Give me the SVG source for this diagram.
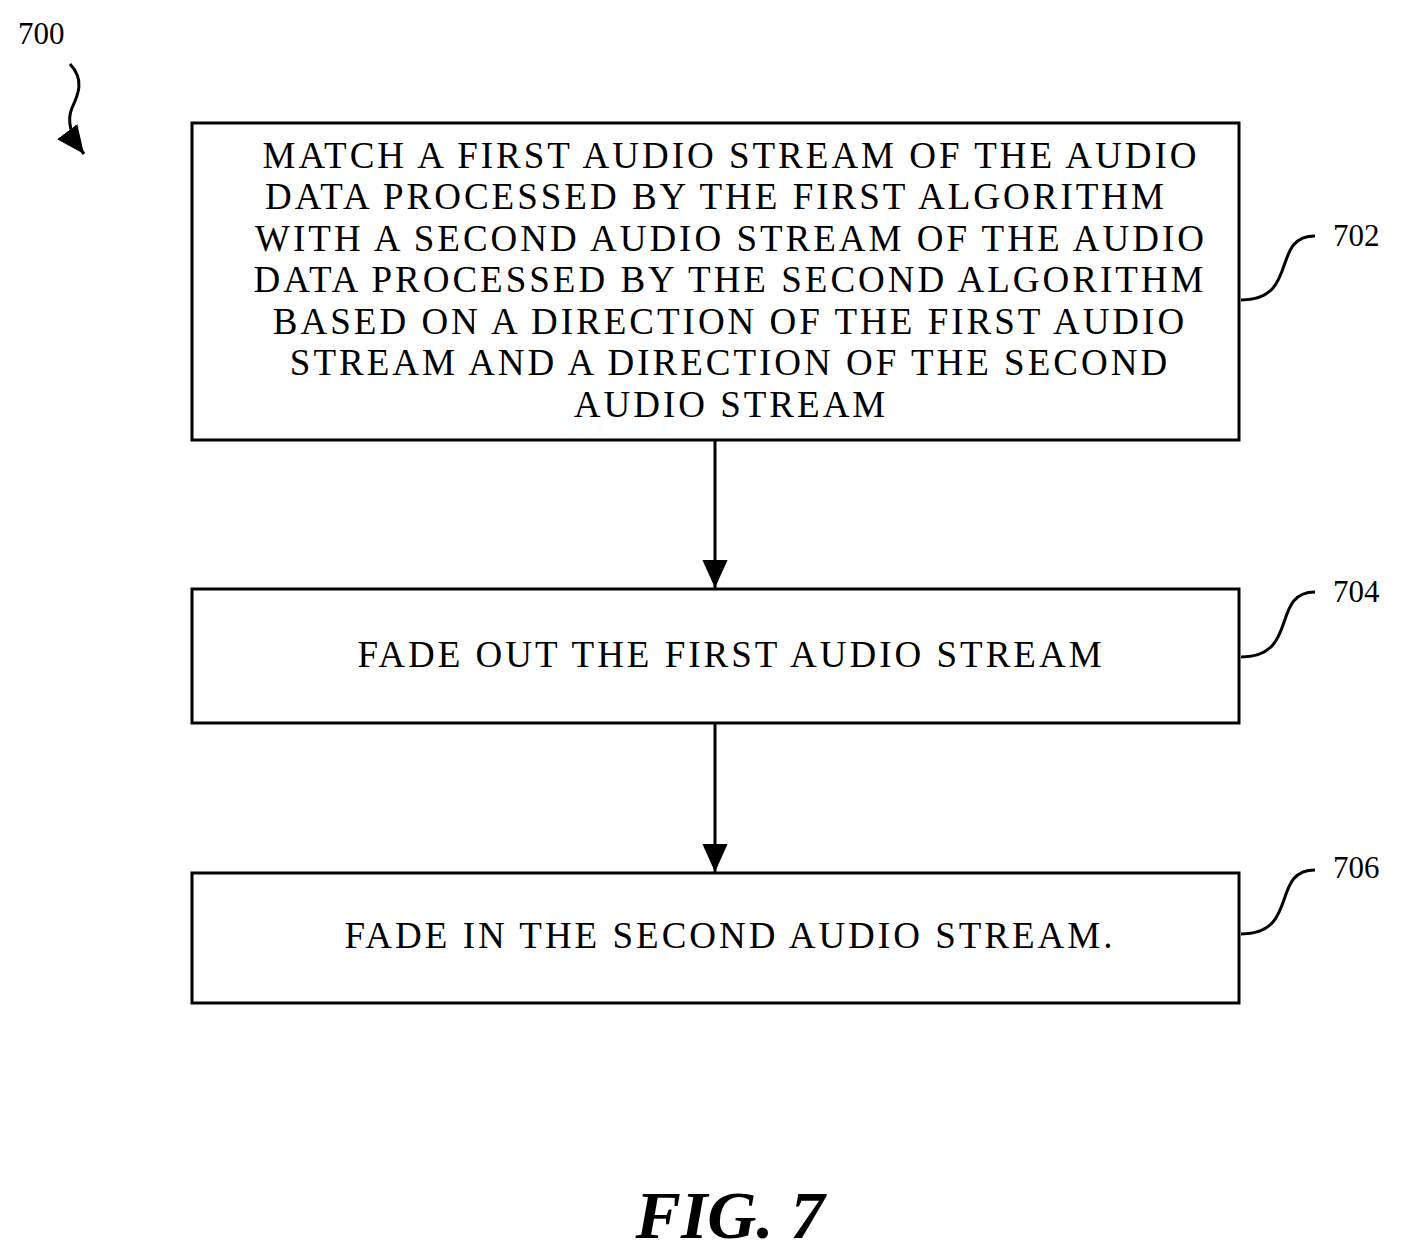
<svg xmlns="http://www.w3.org/2000/svg" width="1407" height="1260" viewBox="0 0 1407 1260">
<style>
.box{fill:#fff;stroke:#000;stroke-width:3}
.t{font-family:"Liberation Serif",serif;font-size:37px;text-anchor:middle;fill:#000;letter-spacing:3px}
.lbl{font-family:"Liberation Serif",serif;font-size:31px;fill:#000}
.ln{fill:none;stroke:#000;stroke-width:3}
</style>
<defs>
<marker id="a" viewBox="0 0 10 10" refX="10" refY="5" markerWidth="28" markerHeight="28" markerUnits="userSpaceOnUse" orient="auto"><path d="M0,0.5 L10,5 L0,9.5 Z" fill="#000"/></marker></defs>
<g id="ref700"><text class="lbl" x="18" y="44">700</text>
<path class="ln" d="M70,64 C85,80 78,95 72,108 C66,122 72,138 84,154" marker-end="url(#a)"/></g>
<g id="n702"><rect class="box" x="192" y="123" width="1047" height="317"/>
<text class="t"><tspan x="731" y="168">MATCH A FIRST AUDIO STREAM OF THE AUDIO</tspan><tspan x="716" y="209">DATA PROCESSED BY THE FIRST ALGORITHM</tspan><tspan x="731" y="251">WITH A SECOND AUDIO STREAM OF THE AUDIO</tspan><tspan x="730" y="292">DATA PROCESSED BY THE SECOND ALGORITHM</tspan><tspan x="730" y="334">BASED ON A DIRECTION OF THE FIRST AUDIO</tspan><tspan x="730" y="375">STREAM AND A DIRECTION OF THE SECOND</tspan><tspan x="731" y="417">AUDIO STREAM</tspan></text>
<text class="lbl" x="1333" y="246">702</text><path class="ln" d="M1241,300 C1300,300 1270,236 1315,236"/></g>
<g id="n704"><rect class="box" x="192" y="589" width="1047" height="134"/>
<text class="t" x="731" y="667">FADE OUT THE FIRST AUDIO STREAM</text>
<text class="lbl" x="1333" y="602">704</text><path class="ln" d="M1241,657 C1300,657 1270,592 1315,592"/></g>
<g id="n706"><rect class="box" x="192" y="873" width="1047" height="130"/>
<text class="t" x="730" y="948">FADE IN THE SECOND AUDIO STREAM.</text>
<text class="lbl" x="1333" y="878">706</text><path class="ln" d="M1241,934 C1300,934 1270,870 1315,870"/></g>
<g id="connectors">
<line class="ln" x1="715" y1="441" x2="715" y2="588" marker-end="url(#a)"/>
<line class="ln" x1="715" y1="724" x2="715" y2="872" marker-end="url(#a)"/>
</g>
<text x="730" y="1238" style="font-family:'Liberation Serif',serif;font-size:68px;font-weight:bold;font-style:italic" text-anchor="middle">FIG. 7</text>
</svg>
